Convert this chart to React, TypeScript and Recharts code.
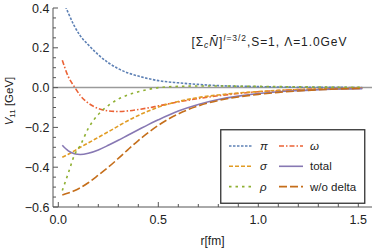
import { LineChart, Line, XAxis, YAxis, ReferenceLine, Legend } from "recharts";

// r [fm] sample points
const rValues = [0.02, 0.05, 0.08, 0.11, 0.15, 0.2, 0.25, 0.3, 0.35, 0.4, 0.45, 0.5, 0.6, 0.7, 0.8, 0.9, 1.0, 1.1, 1.2, 1.3, 1.4, 1.52];

const piValues = [0.445, 0.375, 0.31, 0.26, 0.215, 0.165, 0.125, 0.095, 0.073, 0.058, 0.045, 0.035, 0.024, 0.016, 0.01, 0.007, 0.005, 0.003, 0.002, 0.0015, 0.001, 0.0007];
const omegaValues = [0.138, 0.055, 0.005, -0.04, -0.078, -0.105, -0.117, -0.12, -0.117, -0.11, -0.102, -0.092, -0.072, -0.055, -0.041, -0.03, -0.021, -0.015, -0.01, -0.007, -0.005, -0.003];
const sigmaValues = [-0.35, -0.335, -0.318, -0.3, -0.278, -0.25, -0.222, -0.193, -0.165, -0.14, -0.118, -0.098, -0.07, -0.05, -0.037, -0.027, -0.02, -0.014, -0.01, -0.007, -0.005, -0.003];
const rhoValues = [-0.517, -0.43, -0.34, -0.29, -0.205, -0.135, -0.09, -0.058, -0.036, -0.021, -0.009, 0.0, 0.006, 0.008, 0.008, 0.007, 0.006, 0.005, 0.004, 0.003, 0.002, 0.002];
const totalValues = [-0.29, -0.318, -0.332, -0.336, -0.33, -0.313, -0.29, -0.265, -0.238, -0.212, -0.186, -0.162, -0.118, -0.085, -0.06, -0.043, -0.03, -0.021, -0.015, -0.01, -0.007, -0.005];
const noDeltaValues = [-0.54, -0.53, -0.518, -0.503, -0.478, -0.44, -0.4, -0.356, -0.31, -0.266, -0.226, -0.19, -0.132, -0.092, -0.065, -0.047, -0.034, -0.024, -0.017, -0.011, -0.007, -0.004];

// axis ticks (major ones get labels)
const xTicks = [0, 0.1, 0.2, 0.3, 0.4, 0.5, 0.6, 0.7, 0.8, 0.9, 1.0, 1.1, 1.2, 1.3, 1.4, 1.5];
const xMajor = [0, 0.5, 1.0, 1.5];
const xLabels = ["0.0", "0.5", "1.0", "1.5"];
const yTicks = [-0.6, -0.55, -0.5, -0.45, -0.4, -0.35, -0.3, -0.25, -0.2, -0.15, -0.1, -0.05, 0, 0.05, 0.1, 0.15, 0.2, 0.25, 0.3, 0.35, 0.4];
const yMajor = [-0.6, -0.4, -0.2, 0, 0.2, 0.4];
const yLabels = ["\u22120.6", "\u22120.4", "\u22120.2", "0.0", "0.2", "0.4"];

const data = rValues.map((r, i) => ({
  r,
  pi: piValues[i],
  omega: omegaValues[i],
  sigma: sigmaValues[i],
  rho: rhoValues[i],
  total: totalValues[i],
  noDelta: noDeltaValues[i],
}));

// legend order: row by row, two columns
const SERIES = [
  { key: "pi", name: "\u03c0", color: "#5E81B5", dash: "2.5 1.5", greek: true },
  { key: "omega", name: "\u03c9", color: "#EB6235", dash: "5 2 1.5 2", greek: true },
  { key: "sigma", name: "\u03c3", color: "#E19C24", dash: "4 2", greek: true },
  { key: "total", name: "total", color: "#8778B3", dash: undefined, greek: false },
  { key: "rho", name: "\u03c1", color: "#8FB032", dash: "2.5 4", greek: true },
  { key: "noDelta", name: "w/o delta", color: "#C56E1A", dash: "8 3", greek: false },
];

const FRAME = "#555";
const TEXT = "#222";
const FONT = "'Liberation Sans', Arial, sans-serif";

const near = (a: number, list: number[]) => list.findIndex(v => Math.abs(v - a) < 1e-6);

const BottomTick = ({ x, y, payload }: any) => {
  const idx = near(payload.value, xMajor);
  return (
    <g>
      <line x1={x} x2={x} y1={y} y2={y - (idx >= 0 ? 5 : 3)} stroke={FRAME} />
      {idx >= 0 && (
        <text x={x} y={y + 17} textAnchor="middle" fontSize={12.5} fill={TEXT} fontFamily={FONT}>
          {xLabels[idx]}
        </text>
      )}
    </g>
  );
};

const TopTick = ({ x, y, payload }: any) => {
  const idx = near(payload.value, xMajor);
  return <line x1={x} x2={x} y1={y} y2={y + (idx >= 0 ? 5 : 3)} stroke={FRAME} />;
};

const LeftTick = ({ x, y, payload }: any) => {
  const idx = near(payload.value, yMajor);
  return (
    <g>
      <line x1={x} x2={x + (idx >= 0 ? 5 : 3)} y1={y} y2={y} stroke={FRAME} />
      {idx >= 0 && (
        <text x={x - 3.5} y={y + 4.5} textAnchor="end" fontSize={12.5} fill={TEXT} fontFamily={FONT}>
          {yLabels[idx]}
        </text>
      )}
    </g>
  );
};

const RightTick = ({ x, y, payload }: any) => {
  const idx = near(payload.value, yMajor);
  return <line x1={x} x2={x - (idx >= 0 ? 5 : 3)} y1={y} y2={y} stroke={FRAME} />;
};

const LegendBox = () => (
  <svg width={146} height={76} style={{ display: "block" }}>
    <rect x={0.75} y={0.75} width={144} height={73.5} fill="#fff" stroke="#333" strokeWidth={1.3} />
    {SERIES.map((s, i) => {
      const col = i % 2;
      const row = Math.floor(i / 2);
      const lx = col === 0 ? 9 : 59;
      const cy = 17 + row * 20.3;
      return (
        <g key={s.key}>
          <line x1={lx} x2={lx + 24} y1={cy} y2={cy} stroke={s.color} strokeWidth={1.6} strokeDasharray={s.dash} />
          <text
            x={lx + 31}
            y={cy + 4}
            fontSize={11.5}
            fontStyle={s.greek ? "italic" : "normal"}
            fill={TEXT}
            fontFamily={FONT}
          >
            {s.name}
          </text>
        </g>
      );
    })}
  </svg>
);

export default function App() {
  return (
    <div style={{ position: "absolute", left: 0, top: 0, width: 374, height: 252, background: "#fff", fontFamily: FONT }}>
      <LineChart width={374} height={252} data={data} margin={{ top: 8, right: 2, bottom: 0, left: 0 }}>
        <XAxis
          xAxisId="b"
          dataKey="r"
          type="number"
          domain={[-0.0265, 1.5685]}
          allowDataOverflow
          ticks={xTicks}
          interval={0}
          tick={<BottomTick />}
          tickLine={false}
          tickSize={0}
          tickMargin={0}
          height={45}
          axisLine={{ stroke: FRAME }}
          label={{ value: "r[fm]", position: "insideBottom", offset: 7, fontSize: 12, fill: TEXT, fontFamily: FONT }}
        />
        <XAxis
          xAxisId="t"
          orientation="top"
          dataKey="r"
          type="number"
          domain={[-0.0265, 1.5685]}
          allowDataOverflow
          ticks={xTicks}
          interval={0}
          tick={<TopTick />}
          tickLine={false}
          tickSize={0}
          tickMargin={0}
          height={0}
          axisLine={{ stroke: FRAME }}
        />
        <YAxis
          yAxisId="l"
          type="number"
          domain={[-0.6, 0.4]}
          allowDataOverflow
          ticks={yTicks}
          interval={0}
          tick={<LeftTick />}
          tickLine={false}
          tickSize={0}
          tickMargin={0}
          width={53}
          axisLine={{ stroke: FRAME }}
        />
        <YAxis
          yAxisId="r"
          orientation="right"
          type="number"
          domain={[-0.6, 0.4]}
          allowDataOverflow
          ticks={yTicks}
          interval={0}
          tick={<RightTick />}
          tickLine={false}
          tickSize={0}
          tickMargin={0}
          width={0}
          axisLine={{ stroke: FRAME }}
        />
        <ReferenceLine xAxisId="b" yAxisId="l" y={0} stroke="#9a9a9a" strokeWidth={1.5} />
        {SERIES.map(s => (
          <Line
            key={s.key}
            xAxisId="b"
            yAxisId="l"
            dataKey={s.key}
            name={s.name}
            type="monotone"
            stroke={s.color}
            strokeWidth={1.6}
            strokeDasharray={s.dash}
            dot={false}
            activeDot={false}
            isAnimationActive={false}
          />
        ))}
        <Legend
          layout="horizontal"
          verticalAlign="middle"
          align="center"
          content={<LegendBox />}
          wrapperStyle={{ position: "absolute", left: 220, top: 129, width: 146, height: 76 }}
        />
      </LineChart>
      <svg width={374} height={252} style={{ position: "absolute", left: 0, top: 0, pointerEvents: "none" }}>
        <text x={191.5} y={45.5} fontSize={12} fill={TEXT} fontFamily={FONT} textLength={155} lengthAdjust="spacing">
          [Σ<tspan fontSize={8.5} fontStyle="italic" dy={2.5}>c</tspan>
          <tspan dy={-2.5} fontStyle="italic">N̄</tspan>]
          <tspan fontSize={8.5} dy={-5}><tspan fontStyle="italic">I</tspan>=3/2</tspan>
          <tspan dy={5}>,S=1, Λ=1.0GeV</tspan>
        </text>
        <text transform="translate(13,101) rotate(-90)" textAnchor="middle" fontSize={11.5} fill={TEXT} fontFamily={FONT}>
          <tspan fontStyle="italic">V</tspan>
          <tspan fontSize={8} dy={2}>11</tspan>
          <tspan dy={-2}> [GeV]</tspan>
        </text>
      </svg>
    </div>
  );
}
